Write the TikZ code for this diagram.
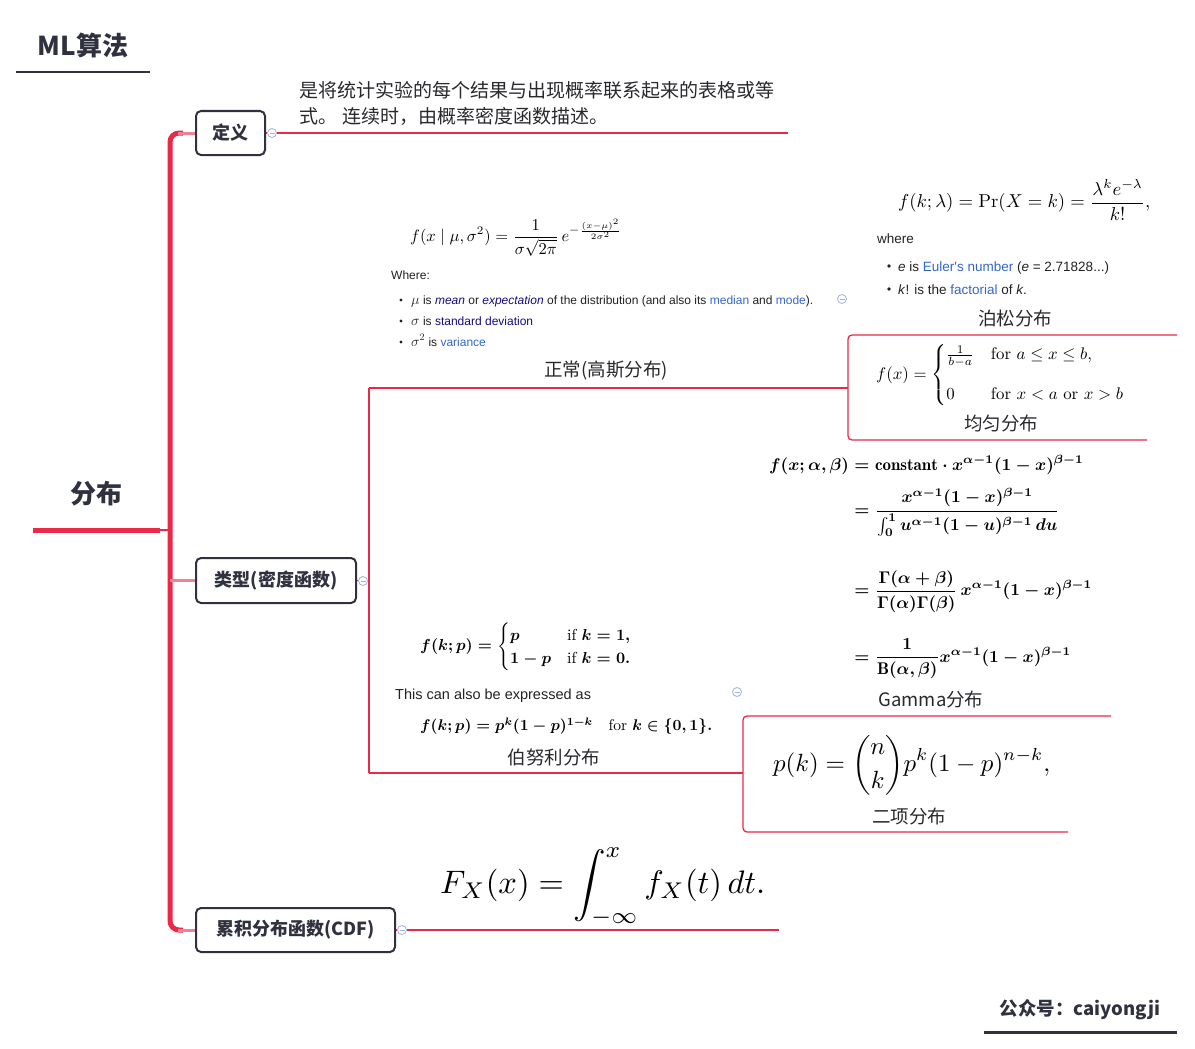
\documentclass[tikz,border=0pt]{standalone}
\usepackage{amsmath}
\usepackage{fontspec}
\usepackage{graphicx}
\newfontfamily\cjk{Noto Sans CJK SC}
\newfontfamily\wsans{Liberation Sans}
\definecolor{mmred}{RGB}{234,40,72}
\definecolor{mmpink}{RGB}{242,128,148}
\definecolor{nodedark}{RGB}{47,49,62}
\definecolor{labeltxt}{RGB}{40,40,45}
\definecolor{wikitxt}{RGB}{32,33,34}
\definecolor{wlink}{RGB}{51,102,204}
\definecolor{wnavy}{RGB}{20,10,130}
\definecolor{iconblue}{RGB}{160,178,222}
\newcommand{\bigsym}[1]{{\fontsize{14}{14}\selectfont$#1$}}
\begin{document}
\begin{tikzpicture}[x=1pt,y=-1pt,
  topic/.style={draw=nodedark, line width=2pt, rounded corners=5pt, inner sep=0pt,
    font=\cjk\bfseries\fontsize{18}{18}\selectfont, text=nodedark},
  lbl/.style={font=\cjk\fontsize{18.5}{20}\selectfont, text=labeltxt, inner sep=0pt},
  trunk/.style={mmred, line width=5pt},
  twig/.style={mmpink, line width=3pt},
  thinline/.style={mmred, line width=1.3pt},
  collapse/.style={circle, draw=iconblue, fill=white, line width=0.8pt, minimum size=9pt, inner sep=0pt,
    path picture={\draw[iconblue, line width=0.8pt] ([xshift=-2.5pt]path picture bounding box.center) -- ([xshift=2.5pt]path picture bounding box.center);}},
  wtext/.style={font=\wsans\fontsize{12}{14}\selectfont, text=wikitxt, inner sep=0pt, anchor=base west},
  fml/.style={inner sep=0pt, anchor=west},
  deftext/.style={font=\cjk\fontsize{19}{26}\selectfont, text=labeltxt, inner sep=0pt, anchor=base west},
  bul/.style={wikitxt}
]
\useasboundingbox (0,0) rectangle (1195,1049);

% title and footer
\node[font=\cjk\bfseries\fontsize{26}{26}\selectfont, text=nodedark, inner sep=0pt] (title) at (83,45) {ML算法};
\coordinate (titleL) at (16,72);
\coordinate (titleR) at (150,72);
\draw[nodedark, line width=2pt] (titleL) -- (titleR);
\node[font=\cjk\bfseries\fontsize{18.5}{18.5}\selectfont, text=nodedark, inner sep=0pt] (footer) at (1080,1010) {公众号：caiyongji};
\coordinate (footL) at (984,1032);
\coordinate (footR) at (1177,1032);
\draw[nodedark, line width=3pt] (footL) -- (footR);

% root
\node[font=\cjk\bfseries\fontsize{26}{26}\selectfont, text=nodedark, inner sep=0pt] (root) at (96,494) {分布};
\coordinate (rootL) at (33,530);
\coordinate (rootR) at (160,530);
\coordinate (tx) at (170,0);
\draw[trunk] (rootL) -- (rootR);
\draw[thinline] (rootR) -- (rootR -| tx);

% main topics
\node[topic, minimum width=69pt, minimum height=44pt] (defn) at (230.5,133) {定义};
\node[topic, minimum width=160pt, minimum height=45pt] (typn) at (276,580.5) {类型(密度函数)};
\node[topic, minimum width=199pt, minimum height=44pt] (cdfn) at (295.5,930) {累积分布函数(CDF)};

\draw[trunk, rounded corners=9pt] ([xshift=-12pt]defn.west) -- (defn.west -| tx) -- (cdfn.west -| tx) -- ([xshift=-12pt]cdfn.west);
\draw[twig] ([xshift=-17pt]defn.west) -- (defn.west);
\draw[twig] (typn.west -| tx) -- (typn.west);
\draw[twig] ([xshift=-17pt]cdfn.west) -- (cdfn.west);

% collapse icons
\node[collapse] (cdef) at (272,133) {};
\node[collapse] (ctyp) at (363,581) {};
\node[collapse] (ccdf) at (402,930) {};
\node[collapse] (cnorm) at (842,299) {};
\node[collapse] (cbern) at (737,692) {};

% definition
\coordinate (defEnd) at (788,133);
\draw[thinline] (defn.east) -- (cdef);
\draw[thinline] (cdef) -- (defEnd);
\node[deftext] (def1) at (299,97) {是将统计实验的每个结果与出现概率联系起来的表格或等};
\node[deftext] (def2) at (299,123) {式。\hspace{5pt}连续时，由概率密度函数描述。};

% type branches
\coordinate (jN) at (369,388);
\coordinate (jB) at (369,773);
\coordinate (jN2) at (848,388);
\coordinate (jB2) at (743,773);
\coordinate (poisEnd) at (1177,335);
\coordinate (unifEnd) at (1147,440);
\coordinate (gamEnd) at (1111,716);
\coordinate (binEnd) at (1068,832);
\draw[thinline] (typn.east) -- (ctyp);
\draw[thinline] (ctyp) -- (ctyp -| jN);
\draw[thinline] (jN) -- (jB);
\draw[thinline] (jN) -- (jN2);
\draw[thinline, rounded corners=4pt] (poisEnd) -- (poisEnd -| jN2) -- (unifEnd -| jN2) -- (unifEnd);
\draw[thinline] (jB) -- (jB2);
\draw[thinline, rounded corners=4pt] (gamEnd) -- (gamEnd -| jB2) -- (binEnd -| jB2) -- (binEnd);

% CDF
\coordinate (cdfEnd) at (779,930);
\draw[thinline] (cdfn.east) -- (ccdf);
\draw[thinline] (ccdf) -- (cdfEnd);
\node[fml] (fcdf) at (440,887) {\resizebox{325pt}{!}{$\displaystyle F_X(x)=\int_{-\infty}^{x} f_X(t)\,dt.$}};

% labels
\node[lbl] (lnorm) at (606,371) {正常(高斯分布)};
\node[lbl] (lpois) at (1015,318) {泊松分布};
\node[lbl] (lunif) at (1001,423) {均匀分布};
\node[lbl] (lgam) at (931,699) {Gamma分布};
\node[lbl] (lbern) at (554,757) {伯努利分布};
\node[lbl] (lbin) at (909,816) {二项分布};

% normal
\node[fml] (fnorm) at (410,238) {\resizebox{212pt}{!}{$\displaystyle f(x\mid\mu,\sigma^2)=\frac{1}{\sigma\sqrt{2\pi}}\,e^{-\frac{(x-\mu)^2}{2\sigma^2}}$}};
\node[wtext] (nwhere) at (391,279) {Where:};
\fill[bul] (401,300) circle (1.7pt);
\fill[bul] (401,321) circle (1.7pt);
\fill[bul] (401,342) circle (1.7pt);
\node[wtext] (nb1) at (411,304) {\bigsym{\mu} is \textcolor{wnavy}{\textit{mean}} or \textcolor{wnavy}{\textit{expectation}} of the distribution (and also its \textcolor{wlink}{median} and \textcolor{wlink}{mode}).};
\node[wtext] (nb2) at (411,325) {\bigsym{\sigma} is \textcolor{wnavy}{standard deviation}};
\node[wtext] (nb3) at (411,346) {\bigsym{\sigma^2} is \textcolor{wlink}{variance}};

% poisson
\node[fml] (fpois) at (898,200) {\resizebox{252pt}{!}{$\displaystyle f(k;\lambda)=\Pr(X=k)=\frac{\lambda^k e^{-\lambda}}{k!},$}};
\node[wtext, font=\wsans\fontsize{13.5}{15}\selectfont] (pwhere) at (877,243) {where};
\fill[bul] (889,266) circle (1.8pt);
\fill[bul] (889,289) circle (1.8pt);
\node[wtext, font=\wsans\fontsize{13.5}{15}\selectfont] (pb1) at (898,271) {\textit{e} is \textcolor{wlink}{Euler's number} (\textit{e} = 2.71828...)};
\node[wtext, font=\wsans\fontsize{13.5}{15}\selectfont] (pb2) at (898,294) {\textit{k}! is the \textcolor{wlink}{factorial} of \textit{k}.};

% uniform
\node[fml] (funif) at (876,375) {\resizebox{249pt}{!}{$f(x)=\begin{cases}\frac{1}{b-a} & \text{for } a\le x\le b,\\[2.2ex] 0 & \text{for } x<a \text{ or } x>b\end{cases}$}};

% beta
\node[inner sep=0pt, anchor=north west] (fbeta) at (769,455) {\resizebox{323pt}{!}{\boldmath$\displaystyle\begin{aligned}
f(x;\alpha,\beta) &= \mathrm{constant}\cdot x^{\alpha-1}(1-x)^{\beta-1}\\[3pt]
&= \frac{x^{\alpha-1}(1-x)^{\beta-1}}{\int_0^1 u^{\alpha-1}(1-u)^{\beta-1}\,du}\\[16pt]
&= \frac{\Gamma(\alpha+\beta)}{\Gamma(\alpha)\Gamma(\beta)}\,x^{\alpha-1}(1-x)^{\beta-1}\\[11pt]
&= \frac{1}{\mathrm{B}(\alpha,\beta)}x^{\alpha-1}(1-x)^{\beta-1}
\end{aligned}$}};

% bernoulli
\node[fml] (fbern1) at (420,647) {\resizebox{212pt}{!}{\boldmath$f(k;p)=\begin{cases}p & \text{if } k=1,\\ 1-p & \text{if } k=0.\end{cases}$}};
\node[wtext, font=\wsans\fontsize{14.5}{16}\selectfont] (bexpr) at (395,699) {This can also be expressed as};
\node[fml] (fbern2) at (420,726) {\resizebox{292pt}{!}{\boldmath$f(k;p)=p^k(1-p)^{1-k}\quad \text{for } k\in\{0,1\}.$}};

% binomial
\node[fml] (fbin) at (773,765) {\resizebox{277pt}{!}{$\displaystyle p(k)=\binom{n}{k}p^k(1-p)^{n-k},$}};
\end{tikzpicture}
\end{document}
